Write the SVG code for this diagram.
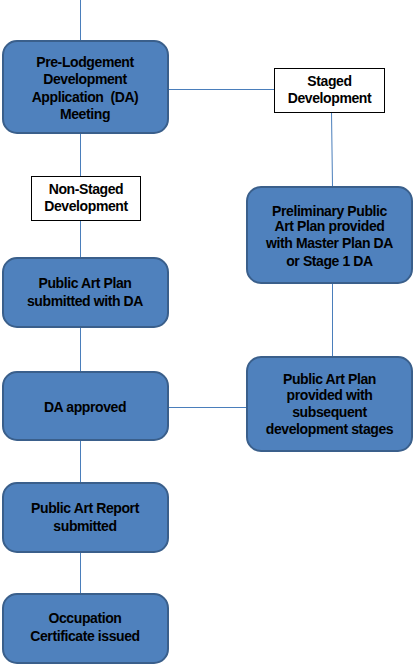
<svg xmlns="http://www.w3.org/2000/svg" width="416" height="666" viewBox="0 0 416 666">
<style>
.n{fill:#4F81BD;stroke:#3A5F8B;stroke-width:2}
.l{fill:#fff;stroke:#000;stroke-width:1}
.c{stroke:#4A7EBB;stroke-width:1;fill:none}
text{font-family:"Liberation Sans",Arial,sans-serif;font-size:14px;font-weight:bold;fill:#000;text-anchor:middle;letter-spacing:-0.4px}
</style>
<rect width="416" height="666" fill="#fff"/>
<g id="connectors">
<line class="c" x1="80.5" y1="0" x2="80.5" y2="41"/>
<line class="c" x1="80.5" y1="133" x2="80.5" y2="176"/>
<line class="c" x1="80.5" y1="220" x2="80.5" y2="258"/>
<line class="c" x1="80.5" y1="327" x2="80.5" y2="372"/>
<line class="c" x1="80.5" y1="440" x2="80.5" y2="483"/>
<line class="c" x1="80.5" y1="552" x2="80.5" y2="594"/>
<line class="c" x1="168" y1="89.5" x2="274" y2="89.5"/>
<line class="c" x1="331.5" y1="112" x2="332.5" y2="187"/>
<line class="c" x1="332.5" y1="283" x2="332.5" y2="357"/>
<line class="c" x1="168" y1="407.5" x2="246" y2="407.5"/>
</g>
<g id="n1"><rect class="n" x="3" y="41" width="165" height="92" rx="14"/>
<text x="85" y="67">Pre-Lodgement</text><text x="85" y="84">Development</text><text x="85" y="102" xml:space="preserve" style="white-space:pre">Application  (DA)</text><text x="85" y="119">Meeting</text></g>
<g id="staged"><rect class="l" x="274.5" y="68.5" width="110" height="44"/>
<text x="329.5" y="86">Staged</text><text x="329.5" y="103">Development</text></g>
<g id="nonstaged"><rect class="l" x="31.5" y="176.5" width="109" height="44"/>
<text x="86" y="194">Non-Staged</text><text x="86" y="211">Development</text></g>
<g id="n2"><rect class="n" x="3" y="258" width="165" height="69" rx="14"/>
<text x="85" y="288">Public Art Plan</text><text x="85" y="306">submitted with DA</text></g>
<g id="n3"><rect class="n" x="3" y="372" width="165" height="68" rx="14"/>
<text x="85" y="412">DA approved</text></g>
<g id="n4"><rect class="n" x="3" y="483" width="165" height="69" rx="14"/>
<text x="85" y="513">Public Art Report</text><text x="85" y="531">submitted</text></g>
<g id="n5"><rect class="n" x="3" y="594" width="165" height="69" rx="14"/>
<text x="85" y="623">Occupation</text><text x="85" y="641">Certificate issued</text></g>
<g id="n6"><rect class="n" x="247" y="187" width="165" height="96" rx="14"/>
<text x="329.5" y="216">Preliminary Public</text><text x="329.5" y="231">Art Plan provided</text><text x="329.5" y="248">with Master Plan DA</text><text x="329.5" y="266">or Stage 1 DA</text></g>
<g id="n7"><rect class="n" x="247" y="357" width="165" height="94" rx="14"/>
<text x="329.5" y="384">Public Art Plan</text><text x="329.5" y="400">provided with</text><text x="329.5" y="417">subsequent</text><text x="329.5" y="434">development stages</text></g>
</svg>
